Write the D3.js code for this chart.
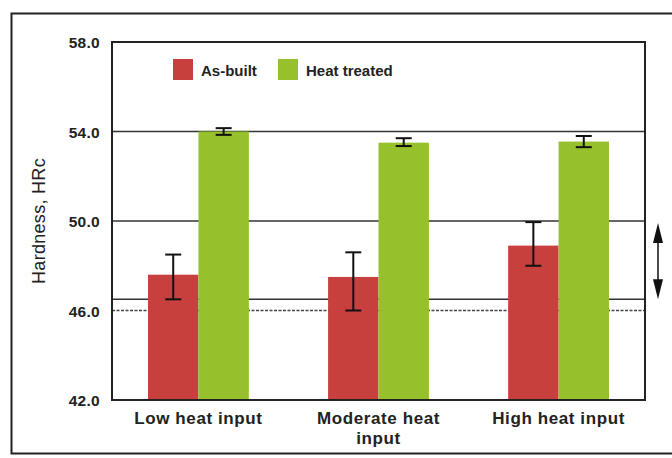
<!DOCTYPE html>
<html><head><meta charset="utf-8">
<script src="https://cdn.jsdelivr.net/npm/d3@7"></script>
<style>body{margin:0;background:#fff;}svg{display:block;font-family:"Liberation Sans",Arial,sans-serif;}</style>
</head><body>
<svg id="c" width="672" height="458"></svg>
<script>
const categories = [["Low heat input"], ["Moderate heat", "input"], ["High heat input"]];
const series = ["As-built", "Heat treated"];
const asBuilt = [47.6, 47.5, 48.9];
const asBuiltErrLow = [46.5, 46.0, 48.0];
const asBuiltErrHigh = [48.5, 48.6, 49.95];
const heatTreated = [54.0, 53.5, 53.55];
const heatErrLow = [53.85, 53.35, 53.3];
const heatErrHigh = [54.15, 53.7, 53.8];
const yTicks = [42, 46, 50, 54, 58];
const gridValues = [50, 54];
const refLines = [46.5, 46.0];
const arrowRange = [50, 46.5];
const colors = ["#c8403e", "#96c12c"];

const svg = d3.select("#c");
const pL = 112, pR = 645, pT = 42, pB = 400;
const y = d3.scaleLinear().domain([42, 58]).range([pB, pT]);
const x0 = d3.scaleBand().domain(categories.map((d, i) => i)).range([pL, pR]).paddingInner(0.44).paddingOuter(0.2);
const x1 = d3.scaleBand().domain([0, 1]).range([0, x0.bandwidth()]);

// outer frame
svg.append("rect").attr("x", 11.5).attr("y", 13.5).attr("width", 700).attr("height", 440)
  .attr("fill", "none").attr("stroke", "#222").attr("stroke-width", 2);

// gridlines
svg.selectAll(".grid").data(gridValues).join("line")
  .attr("x1", pL).attr("x2", pR).attr("y1", d => y(d)).attr("y2", d => y(d))
  .attr("stroke", "#333").attr("stroke-width", 1.5);
svg.append("line").attr("x1", pL).attr("x2", pR).attr("y1", y(refLines[0])).attr("y2", y(refLines[0]))
  .attr("stroke", "#333").attr("stroke-width", 1.4);
svg.append("line").attr("x1", pL).attr("x2", pR).attr("y1", y(refLines[1])).attr("y2", y(refLines[1]))
  .attr("stroke", "#444").attr("stroke-width", 1.4).attr("stroke-dasharray", "3,1.5");

// bars
const data = categories.map((c, i) => [
  {v: asBuilt[i], lo: asBuiltErrLow[i], hi: asBuiltErrHigh[i], s: 0, i},
  {v: heatTreated[i], lo: heatErrLow[i], hi: heatErrHigh[i], s: 1, i}
]).flat();
svg.selectAll(".bar").data(data).join("rect")
  .attr("x", d => x0(d.i) + x1(d.s)).attr("width", x1.bandwidth())
  .attr("y", d => y(d.v)).attr("height", d => y(42) - y(d.v))
  .attr("fill", d => colors[d.s]);

// error bars
const cx = d => x0(d.i) + x1(d.s) + x1.bandwidth() / 2;
const eb = svg.selectAll(".eb").data(data).join("g").attr("stroke", "#111").attr("stroke-width", 2);
eb.append("line").attr("x1", cx).attr("x2", cx).attr("y1", d => y(d.lo)).attr("y2", d => y(d.hi));
eb.append("line").attr("x1", d => cx(d) - 8).attr("x2", d => cx(d) + 8).attr("y1", d => y(d.lo)).attr("y2", d => y(d.lo));
eb.append("line").attr("x1", d => cx(d) - 8).attr("x2", d => cx(d) + 8).attr("y1", d => y(d.hi)).attr("y2", d => y(d.hi));

// plot frame
svg.append("rect").attr("x", pL).attr("y", pT).attr("width", pR - pL).attr("height", pB - pT)
  .attr("fill", "none").attr("stroke", "#222").attr("stroke-width", 2);

// y tick labels
svg.selectAll(".yt").data(yTicks).join("text")
  .attr("x", 100).attr("y", d => y(d) + 1).attr("dy", "0.35em").attr("text-anchor", "end")
  .attr("font-size", 15.5).attr("font-weight", "bold").attr("letter-spacing", 0.3).attr("fill", "#222").text(d => d.toFixed(1));

// y title
svg.append("text").attr("transform", `translate(45,${(pT + pB) / 2}) rotate(-90)`)
  .attr("text-anchor", "middle").attr("font-size", 18).attr("letter-spacing", 0.3).attr("fill", "#222").text("Hardness, HRc");

// category labels
categories.forEach((lines, i) => {
  const t = svg.append("text").attr("x", x0(i) + x0.bandwidth() / 2).attr("y", 424)
    .attr("text-anchor", "middle").attr("font-size", 17).attr("font-weight", "bold").attr("letter-spacing", 0.6).attr("fill", "#222");
  lines.forEach((l, k) => t.append("tspan").attr("x", x0(i) + x0.bandwidth() / 2).attr("dy", k ? 20 : 0).text(l));
});

// legend
const legX = [173, 278];
series.forEach((s, k) => {
  svg.append("rect").attr("x", legX[k]).attr("y", 59).attr("width", 20).attr("height", 21).attr("fill", colors[k]);
  svg.append("text").attr("x", legX[k] + 28).attr("y", 71).attr("dy", "0.35em")
    .attr("font-size", 15).attr("font-weight", "bold").attr("fill", "#222").text(s);
});

// double arrow
const ax = 658, ay1 = y(arrowRange[0]) + 2, ay2 = y(arrowRange[1]);
svg.append("line").attr("x1", ax).attr("x2", ax).attr("y1", ay1 + 15).attr("y2", ay2 - 15).attr("stroke", "#111").attr("stroke-width", 1.5);
svg.append("path").attr("d", `M${ax},${ay1} L${ax - 5},${ay1 + 20} L${ax + 5},${ay1 + 20} Z`).attr("fill", "#111");
svg.append("path").attr("d", `M${ax},${ay2} L${ax - 5},${ay2 - 20} L${ax + 5},${ay2 - 20} Z`).attr("fill", "#111");
</script>
</body></html>
